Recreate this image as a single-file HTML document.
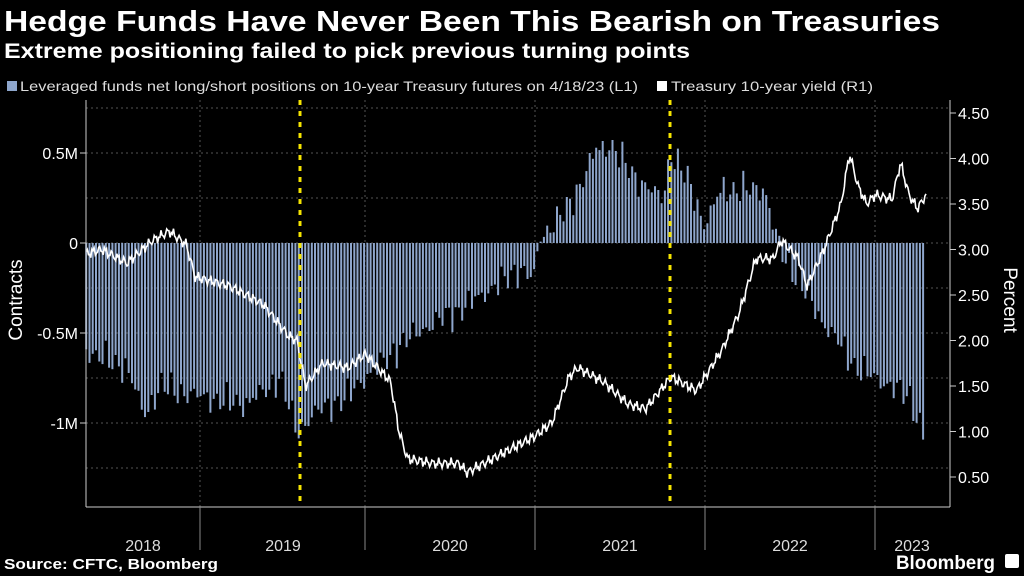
<!DOCTYPE html>
<html><head><meta charset="utf-8"><style>
body{margin:0;background:#000;width:1024px;height:576px;overflow:hidden;font-family:"Liberation Sans",sans-serif;color:#fff}
svg{position:absolute;left:0;top:0}
</style></head><body>
<svg id="s" width="1024" height="576" xmlns="http://www.w3.org/2000/svg" font-family="Liberation Sans, sans-serif">
<text x="4" y="31" font-size="29" font-weight="bold" fill="#fff" textLength="936" lengthAdjust="spacingAndGlyphs">Hedge Funds Have Never Been This Bearish on Treasuries</text>
<text x="4" y="58" font-size="21" font-weight="bold" fill="#fff" textLength="686" lengthAdjust="spacingAndGlyphs">Extreme positioning failed to pick previous turning points</text>
<rect x="7" y="81" width="10" height="10" fill="#8ea6cc"/>
<text x="20" y="91" font-size="14" fill="#ddd" textLength="618" lengthAdjust="spacingAndGlyphs">Leveraged funds net long/short positions on 10-year Treasury futures on 4/18/23 (L1)</text>
<rect x="657" y="81" width="10" height="10" fill="#fff"/>
<text x="671" y="91" font-size="14" fill="#ddd" textLength="202" lengthAdjust="spacingAndGlyphs">Treasury 10-year yield (R1)</text>
<text transform="translate(22,300) rotate(-90)" text-anchor="middle" font-size="19" fill="#fff">Contracts</text>
<text transform="translate(1004,300) rotate(90)" text-anchor="middle" font-size="19" fill="#fff">Percent</text>
<g id="g"></g>
<text x="4" y="569" font-size="15" font-weight="bold" fill="#fff" textLength="214" lengthAdjust="spacingAndGlyphs">Source: CFTC, Bloomberg</text>
<text x="896" y="569" font-size="19" font-weight="bold" fill="#fff" textLength="99" lengthAdjust="spacingAndGlyphs">Bloomberg</text>
<rect x="1005" y="554" width="14" height="14" rx="2" fill="#fff"/>
</svg>
<script>
var g=document.getElementById('g'),h='';
function X(t){return 195+(t-2019)*170;}
function lerp(k,t){for(var i=1;i<k.length;i++){if(t<=k[i][0]){var a=k[i-1],b=k[i];return a[1]+(b[1]-a[1])*(t-a[0])/(b[0]-a[0]);}}return k[k.length-1][1];}
[108,153,198,243,288,333,378,423,468].forEach(function(y){h+='<line x1="86" x2="950" y1="'+y+'" y2="'+y+'" stroke="#555" stroke-dasharray="2,3"/>';});
[200,365,535,705,875].forEach(function(x){h+='<line x1="'+x+'" x2="'+x+'" y1="100" y2="507" stroke="#555" stroke-dasharray="2,3"/>';});
var P=[[2018.36,-0.6],[2018.6,-0.7],[2018.7,-0.95],[2018.8,-0.8],[2019.0,-0.85],[2019.3,-0.9],[2019.5,-0.75],[2019.6,-1.05],[2019.7,-0.95],[2019.9,-0.85],[2020.0,-0.75],[2020.3,-0.5],[2020.6,-0.35],[2020.9,-0.15],[2021.0,-0.2],[2021.02,0.02],[2021.2,0.2],[2021.35,0.5],[2021.45,0.55],[2021.6,0.35],[2021.75,0.25],[2021.8,0.5],[2021.9,0.35],[2022.0,0.1],[2022.1,0.3],[2022.35,0.3],[2022.4,0.1],[2022.45,-0.05],[2022.7,-0.45],[2022.9,-0.7],[2023.0,-0.75],[2023.2,-0.85],[2023.26,-1.0],[2023.29,-1.12],[2023.3,-1.27]];
for(var t=2018.36;t<=2023.3;t+=1/52){var v=lerp(P,t);if(t<2023.27)v+=0.08*Math.sin(t*97)*Math.abs(Math.sin(t*31))-0.03*Math.sin(t*211);
var x=X(t),y=243-v*180;h+='<rect x="'+(x-1).toFixed(1)+'" y="'+Math.min(y,243).toFixed(1)+'" width="2" height="'+Math.abs(243-y).toFixed(1)+'" fill="#8ea6cc"/>';}
var Y=[[2018.36,2.95],[2018.45,3.0],[2018.6,2.85],[2018.75,3.1],[2018.85,3.2],[2018.95,3.05],[2019.0,2.7],[2019.2,2.6],[2019.4,2.4],[2019.55,2.05],[2019.6,2.0],[2019.65,1.5],[2019.75,1.75],[2019.9,1.7],[2020.0,1.85],[2020.15,1.55],[2020.2,1.0],[2020.25,0.7],[2020.4,0.65],[2020.55,0.65],[2020.6,0.55],[2020.75,0.7],[2020.9,0.85],[2021.0,0.95],[2021.1,1.1],[2021.2,1.6],[2021.25,1.7],[2021.4,1.55],[2021.55,1.3],[2021.65,1.25],[2021.8,1.6],[2021.95,1.45],[2022.0,1.6],[2022.1,1.9],[2022.2,2.3],[2022.3,2.9],[2022.4,2.9],[2022.45,3.1],[2022.55,2.9],[2022.6,2.6],[2022.7,3.0],[2022.8,3.5],[2022.85,4.05],[2022.9,3.7],[2022.95,3.5],[2023.0,3.6],[2023.1,3.55],[2023.15,3.95],[2023.2,3.6],[2023.25,3.45],[2023.3,3.6]];
var d='';for(var t=2018.36;t<=2023.3;t+=1/150){var v=lerp(Y,t)+0.04*Math.sin(t*173)+0.025*Math.sin(t*431);d+=(d?'L':'M')+X(t).toFixed(1)+','+(477-(v-0.5)*91).toFixed(1);}
h+='<path d="'+d+'" fill="none" stroke="#fff" stroke-width="1.6"/>';
[300,670].forEach(function(x){h+='<line x1="'+x+'" x2="'+x+'" y1="100" y2="507" stroke="#f5e400" stroke-width="3" stroke-dasharray="5,6"/>';});
h+='<line x1="86" x2="86" y1="100" y2="507" stroke="#ccc"/><line x1="950" x2="950" y1="100" y2="507" stroke="#ccc"/><line x1="86" x2="950" y1="507" y2="507" stroke="#ccc"/>';
[['0.5M',153],['0',243],['-0.5M',333],['-1M',423]].forEach(function(a){h+='<text x="78" y="'+(a[1]+6)+'" text-anchor="end" font-size="16" fill="#fff">'+a[0]+'</text><line x1="80" x2="86" y1="'+a[1]+'" y2="'+a[1]+'" stroke="#ccc"/>';});
for(var i=0;i<9;i++){var v=4.5-i*0.5,y=113+i*45.5;h+='<line x1="950" x2="956" y1="'+y+'" y2="'+y+'" stroke="#ccc"/><text x="958" y="'+(y+6)+'" font-size="16" fill="#fff">'+v.toFixed(2)+'</text>';}
[200,365,535,705,875].forEach(function(x){h+='<line x1="'+x+'" x2="'+x+'" y1="507" y2="550" stroke="#888"/>';});
[['2018',143],['2019',283],['2020',450],['2021',620],['2022',790],['2023',912]].forEach(function(a){h+='<text x="'+a[1]+'" y="551" text-anchor="middle" font-size="16" fill="#ddd">'+a[0]+'</text>';});
g.innerHTML=h;
</script>
</body></html>
